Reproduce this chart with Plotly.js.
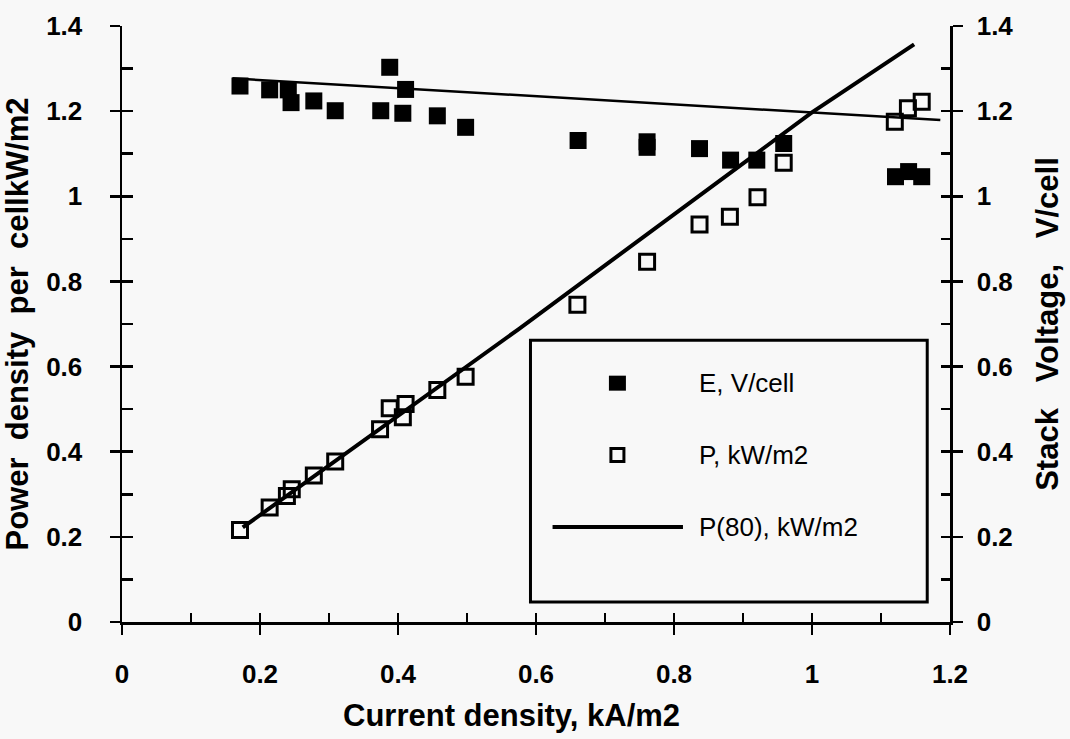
<!DOCTYPE html>
<html>
<head>
<meta charset="utf-8">
<script src="https://cdn.plot.ly/plotly-3.0.1.min.js"></script>
<style>
  html, body { margin: 0; padding: 0; background: #f8f8f8; }
  #chart { width: 1070px; height: 739px; }
</style>
</head>
<body>
<div id="chart"></div>
<script>
// ---- data ----
const eCurrent = [0.171, 0.214, 0.241, 0.245, 0.278, 0.309, 0.375, 0.388, 0.407, 0.411, 0.457, 0.498, 0.661, 0.761, 0.761, 0.837, 0.882, 0.920, 0.959, 1.121, 1.140, 1.159];
const eVoltage = [1.259, 1.250, 1.250, 1.220, 1.224, 1.201, 1.201, 1.303, 1.195, 1.251, 1.189, 1.162, 1.131, 1.128, 1.115, 1.112, 1.085, 1.085, 1.124, 1.046, 1.058, 1.046];

const pCurrent = [0.171, 0.214, 0.239, 0.246, 0.278, 0.309, 0.374, 0.388, 0.407, 0.411, 0.457, 0.498, 0.660, 0.761, 0.837, 0.881, 0.921, 0.959, 1.120, 1.139, 1.159];
const pPower = [0.216, 0.269, 0.296, 0.312, 0.344, 0.377, 0.453, 0.502, 0.481, 0.512, 0.545, 0.576, 0.745, 0.846, 0.934, 0.952, 0.998, 1.079, 1.175, 1.207, 1.222];

const eFitCurrent = [0.160, 1.186];
const eFitVoltage = [1.277, 1.179];

const p80Current = [0.175, 0.575, 1.000, 1.148];
const p80Power = [0.222, 0.688, 1.197, 1.357];

const xTicks = [0, 0.2, 0.4, 0.6, 0.8, 1.0, 1.2];
const xTickText = ["0", "0.2", "0.4", "0.6", "0.8", "1", "1.2"];
const yTicks = [0, 0.2, 0.4, 0.6, 0.8, 1.0, 1.2, 1.4];
const yTickText = ["0", "0.2", "0.4", "0.6", "0.8", "1", "1.2", "1.4"];

const legendLabels = ["E, V/cell", "P, kW/m2", "P(80), kW/m2"];
const xTitle = "Current density, kA/m2";
const yLeftTitle = "Power\u00a0 density\u00a0 per\u00a0 cellkW/m2";
const yRightTitle = "Stack\u00a0\u00a0 Voltage,\u00a0\u00a0 V/cell";

// ---- styling ----
const BLACK = "#000000";
const BG = "#f8f8f8";
const tickFont = { family: "Liberation Sans, Arial, sans-serif", size: 26, color: BLACK, weight: "bold" };
const titleFont = { family: "Liberation Sans, Arial, sans-serif", size: 31, color: BLACK, weight: "bold" };
const legendFont = { family: "Liberation Sans, Arial, sans-serif", size: 26, color: BLACK };

const traces = [
  { x: eFitCurrent, y: eFitVoltage, xaxis: "x", yaxis: "y2", mode: "lines",
    line: { color: BLACK, width: 2.5 }, showlegend: false, hoverinfo: "skip" },
  { x: p80Current, y: p80Power, xaxis: "x", yaxis: "y", mode: "lines",
    line: { color: BLACK, width: 4 }, name: legendLabels[2], showlegend: false },
  { x: eCurrent, y: eVoltage, xaxis: "x", yaxis: "y2", mode: "markers",
    marker: { symbol: "square", size: 17, color: BLACK, line: { width: 0 } },
    name: legendLabels[0], showlegend: false },
  { x: pCurrent, y: pPower, xaxis: "x", yaxis: "y", mode: "markers",
    marker: { symbol: "square-open", size: 15, color: BLACK, line: { width: 3, color: BLACK } },
    name: legendLabels[1], showlegend: false },
  // empty helpers so the minor-tick overlay axes are drawn
  { x: [], y: [], xaxis: "x2", yaxis: "y3", showlegend: false, hoverinfo: "skip" },
  { x: [], y: [], xaxis: "x", yaxis: "y4", showlegend: false, hoverinfo: "skip" }
];

// legend block geometry (data coordinates of the main axes)
const lgBox = { x0: 0.592, x1: 1.167, y0: 0.047, y1: 0.662 };
const lgRowY = [0.561, 0.392, 0.223];
const lgSymX = 0.718;
const lgLine = { x0: 0.624, x1: 0.813 };
const lgTextX = 0.834;

const shapes = [
  { type: "rect", xref: "x", yref: "y", x0: lgBox.x0, x1: lgBox.x1, y0: lgBox.y0, y1: lgBox.y1,
    line: { color: BLACK, width: 3 }, fillcolor: BG, layer: "above" },
  { type: "rect", xref: "x", yref: "y", xsizemode: "pixel", ysizemode: "pixel",
    xanchor: lgSymX, yanchor: lgRowY[0], x0: -8.5, x1: 8.5, y0: -7.5, y1: 7.5,
    line: { width: 0 }, fillcolor: BLACK, layer: "above" },
  { type: "rect", xref: "x", yref: "y", xsizemode: "pixel", ysizemode: "pixel",
    xanchor: lgSymX, yanchor: lgRowY[1], x0: -6.5, x1: 6.5, y0: -6.5, y1: 6.5,
    line: { width: 3, color: BLACK }, fillcolor: "rgba(0,0,0,0)", layer: "above" },
  { type: "line", xref: "x", yref: "y", x0: lgLine.x0, x1: lgLine.x1, y0: lgRowY[2], y1: lgRowY[2],
    line: { color: BLACK, width: 4 }, layer: "above" }
];

const annotations = legendLabels.map((t, i) => ({
  text: t, xref: "x", yref: "y", x: lgTextX, y: lgRowY[i],
  xanchor: "left", yanchor: "middle", showarrow: false, font: legendFont
}));
// x-axis title, placed left of centre as in the reference
annotations.push({
  text: xTitle, xref: "paper", yref: "paper", x: 0.47, y: -0.157,
  xanchor: "center", yanchor: "middle", showarrow: false, font: titleFont
});

const baseAxis = { showgrid: false, zeroline: false, tickcolor: BLACK, tickwidth: 2.5, fixedrange: true };

const layout = {
  width: 1070, height: 739,
  paper_bgcolor: BG, plot_bgcolor: BG,
  margin: { l: 122, r: 120, t: 26, b: 117 },
  showlegend: false,
  xaxis: Object.assign({}, baseAxis, {
    range: [0, 1.2], tickmode: "array", tickvals: xTicks, ticktext: xTickText,
    ticks: "outside", ticklen: 10, showline: true, linecolor: BLACK, linewidth: 2.5,
    tickfont: tickFont, ticklabelstandoff: 17
  }),
  xaxis2: Object.assign({}, baseAxis, {
    range: [0, 1.2], overlaying: "x", anchor: "y", side: "bottom",
    tickmode: "linear", tick0: 0, dtick: 0.1, ticks: "inside", ticklen: 9,
    showticklabels: false, showline: false
  }),
  yaxis: Object.assign({}, baseAxis, {
    range: [0, 1.4], tickmode: "array", tickvals: yTicks, ticktext: yTickText,
    ticks: "outside", ticklen: 10, showline: true, linecolor: BLACK, linewidth: 2.5,
    tickfont: tickFont, ticklabelstandoff: 22,
    title: { text: yLeftTitle, font: titleFont, standoff: 12 }
  }),
  yaxis3: Object.assign({}, baseAxis, {
    range: [0, 1.4], overlaying: "y", anchor: "x", side: "left",
    tickmode: "linear", tick0: 0, dtick: 0.1, ticks: "inside", ticklen: 11,
    showticklabels: false, showline: false
  }),
  yaxis2: Object.assign({}, baseAxis, {
    range: [0, 1.4], overlaying: "y", anchor: "x", side: "right",
    tickmode: "array", tickvals: yTicks, ticktext: yTickText,
    ticks: "outside", ticklen: 10, showline: true, linecolor: BLACK, linewidth: 2.5,
    tickfont: tickFont, ticklabelstandoff: 9,
    title: { text: yRightTitle, font: titleFont, standoff: 24 }
  }),
  yaxis4: Object.assign({}, baseAxis, {
    range: [0, 1.4], overlaying: "y", anchor: "x", side: "right",
    tickmode: "linear", tick0: 0, dtick: 0.1, ticks: "inside", ticklen: 9,
    showticklabels: false, showline: false
  }),
  shapes: shapes,
  annotations: annotations
};

Plotly.newPlot("chart", traces, layout, { displayModeBar: false, staticPlot: true });
</script>
</body>
</html>
